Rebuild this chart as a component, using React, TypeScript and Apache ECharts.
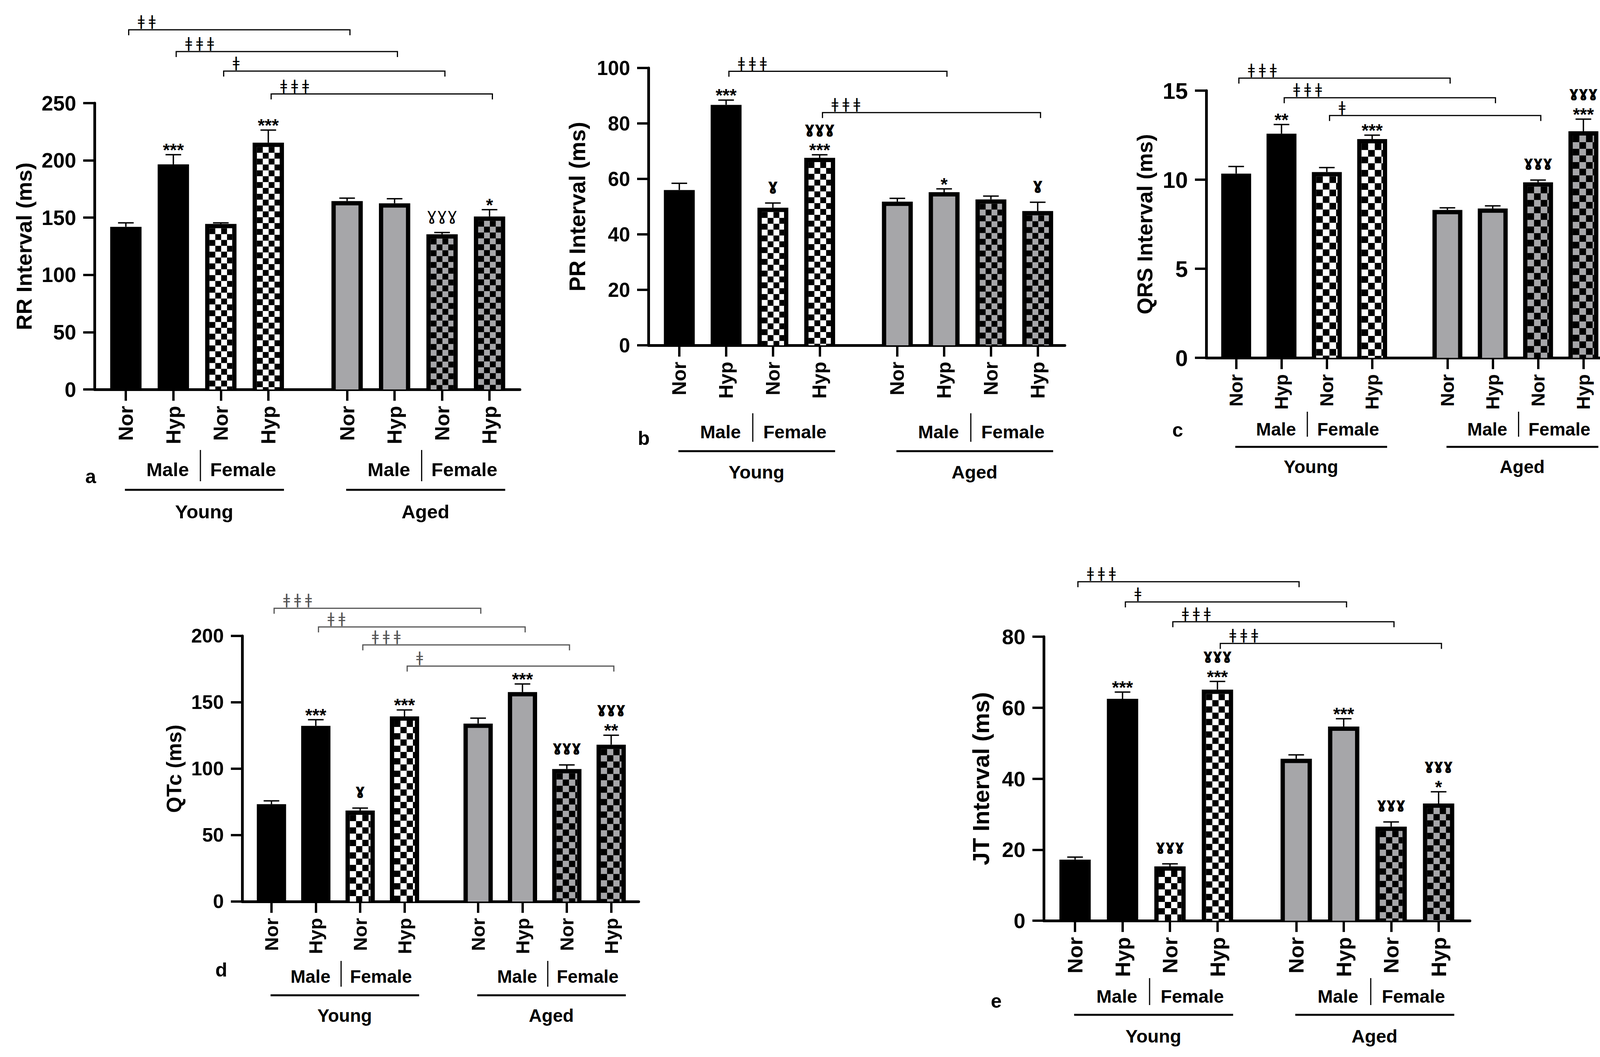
import React, { useEffect, useRef } from "react";
import * as echarts from "echarts";

// x tick labels and group labels
const barLabels = ["Nor", "Hyp", "Nor", "Hyp", "Nor", "Hyp", "Nor", "Hyp"];
const sexLabels = ["Male", "Female"];
const ageLabels = ["Young", "Aged"];

// a: RR interval (ms)
const rrMean = [142, 196.5, 144.5, 215.5, 164.5, 162.5, 135.5, 151];
const rrSem = [3.5, 8.5, 1, 11, 2.5, 4, 1.5, 6];
const rrStars = ["", "***", "", "***", "", "", "", "*"];
const rrGammas = ["", "", "", "", "", "", "ɣɣɣ", ""];
const rrBrackets: [number, number, number, string][] = [[0, 4, 314, "ǂǂ"], [1, 5, 295, "ǂǂǂ"], [2, 6, 278, "ǂ"], [3, 7, 258, "ǂǂǂ"]];

// b: PR interval (ms)
const prMean = [56, 86.7, 49.6, 67.6, 51.8, 55.2, 52.6, 48.4];
const prSem = [2.4, 1.7, 1.7, 1.1, 1.2, 1.2, 1.2, 3.2];
const prStars = ["", "***", "", "***", "", "*", "", ""];
const prGammas = ["", "", "ɣ", "ɣɣɣ", "", "", "", "ɣ"];
const prBrackets: [number, number, number, string][] = [[1, 5, 98.8, "ǂǂǂ"], [3, 7, 83.9, "ǂǂǂ"]];

// c: QRS interval (ms)
const qrsMean = [10.34, 12.58, 10.43, 12.28, 8.3, 8.38, 9.85, 12.72];
const qrsSem = [0.4, 0.52, 0.25, 0.22, 0.12, 0.15, 0.13, 0.68];
const qrsStars = ["", "**", "", "***", "", "", "", "***"];
const qrsGammas = ["", "", "", "", "", "", "ɣɣɣ", "ɣɣɣ"];
const qrsBrackets: [number, number, number, string][] = [[0, 4, 15.7, "ǂǂǂ"], [1, 5, 14.6, "ǂǂǂ"], [2, 6, 13.6, "ǂ"]];

// d: QTc (ms)
const qtcMean = [73.3, 132.3, 68.5, 139.4, 134, 157.7, 99.8, 118.1];
const qtcSem = [2.5, 4.6, 1.9, 4.9, 4.1, 6.1, 3.1, 7.1];
const qtcStars = ["", "***", "", "***", "", "***", "", "**"];
const qtcGammas = ["", "", "ɣ", "", "", "", "ɣɣɣ", "ɣɣɣ"];
const qtcBrackets: [number, number, number, string][] = [[0, 4, 220.8, "ǂǂǂ"], [1, 5, 206.8, "ǂǂ"], [2, 6, 193.2, "ǂǂǂ"], [3, 7, 177.3, "ǂ"]];

// e: JT interval (ms)
const jtMean = [17.2, 62.5, 15.3, 65.1, 45.6, 54.7, 26.5, 33];
const jtSem = [0.7, 1.9, 0.7, 2.3, 1.1, 2.2, 1.3, 3.3];
const jtStars = ["", "***", "", "***", "", "***", "", "*"];
const jtGammas = ["", "", "ɣɣɣ", "ɣɣɣ", "", "", "ɣɣɣ", "ɣɣɣ"];
const jtBrackets: [number, number, number, string][] = [[0, 4, 95.5, "ǂǂǂ"], [1, 5, 89.8, "ǂ"], [2, 6, 84.2, "ǂǂǂ"], [3, 7, 78.1, "ǂǂǂ"]];

const FONT = '"Liberation Sans", Arial, Helvetica, sans-serif';
const SYM_FONT = '"DejaVu Sans", sans-serif';
const GRAY = "#a6a6a9";
const KINDS = ["solid", "solid", "checkW", "checkW", "gray", "gray", "checkG", "checkG"];

// bar centres on the x value axis, in slot units, wider gap between Young and Aged
const barX = (i: number) => 0.66 + i + (i >= 4 ? 0.66 : 0);
const xs = barLabels.map((_, i) => barX(i));

interface Offsets { sex: number; divTop: number; divBot: number; line: number; age: number; letter: number; letterX: number }
interface Panel {
    letter: string; name: string;
    mean: number[]; sem: number[]; stars: string[]; gammas: string[]; brackets: [number, number, number, string][];
    left: number; top: number; width: number; height: number; xmax: number; ymax: number; step: number;
    tickSize: number; xLabSize: number; nameSize: number; nameGap: number; textSize: number;
    gammaSize: number; gammaWeight: string; square: number;
    off: Offsets; bracketColor: string;
}

const panels: Panel[] = [
    {
        letter: "a", name: "RR Interval (ms)", mean: rrMean, sem: rrSem, stars: rrStars, gammas: rrGammas, brackets: rrBrackets,
        left: 242, top: 264, width: 1089, height: 733, xmax: 8.96, ymax: 250, step: 50,
        tickSize: 53, xLabSize: 52, nameSize: 56, nameGap: 153, textSize: 49, gammaSize: 44, gammaWeight: "normal", square: 15,
        off: { sex: 205, divTop: 155, divBot: 235, line: 257, age: 313, letter: 223, letterX: -0.08 }, bracketColor: "#000"
    },
    {
        letter: "b", name: "PR Interval (ms)", mean: prMean, sem: prSem, stars: prStars, gammas: prGammas, brackets: prBrackets,
        left: 1660, top: 174, width: 1066, height: 710, xmax: 8.9, ymax: 100, step: 20,
        tickSize: 51, xLabSize: 50, nameSize: 57, nameGap: 154, textSize: 47, gammaSize: 40, gammaWeight: "bold", square: 15,
        off: { sex: 221, divTop: 174, divBot: 247, line: 271, age: 324, letter: 238, letterX: -0.1 }, bracketColor: "#000"
    },
    {
        letter: "c", name: "QRS Interval (ms)", mean: qrsMean, sem: qrsSem, stars: qrsStars, gammas: qrsGammas, brackets: qrsBrackets,
        left: 3088, top: 232, width: 1027, height: 684, xmax: 8.85, ymax: 15, step: 5,
        tickSize: 58, xLabSize: 48, nameSize: 55, nameGap: 130, textSize: 46, gammaSize: 38, gammaWeight: "bold", square: 17,
        off: { sex: 183, divTop: 138, divBot: 202, line: 228, age: 279, letter: 185, letterX: -0.63 }, bracketColor: "#000"
    },
    {
        letter: "d", name: "QTc (ms)", mean: qtcMean, sem: qtcSem, stars: qtcStars, gammas: qtcGammas, brackets: qtcBrackets,
        left: 620, top: 1628, width: 1015, height: 680, xmax: 8.94, ymax: 200, step: 50,
        tickSize: 50, xLabSize: 49, nameSize: 53, nameGap: 148, textSize: 46, gammaSize: 38, gammaWeight: "bold", square: 16,
        off: { sex: 192, divTop: 152, divBot: 218, line: 240, age: 292, letter: 175, letterX: -0.47 }, bracketColor: "#555"
    },
    {
        letter: "e", name: "JT Interval (ms)", mean: jtMean, sem: jtSem, stars: jtStars, gammas: jtGammas, brackets: jtBrackets,
        left: 2672, top: 1630, width: 1091, height: 727, xmax: 8.98, ymax: 80, step: 20,
        tickSize: 54, xLabSize: 54, nameSize: 60, nameGap: 131, textSize: 47, gammaSize: 38, gammaWeight: "bold", square: 16,
        off: { sex: 193, divTop: 147, divBot: 216, line: 241, age: 295, letter: 206, letterX: -1.0 }, bracketColor: "#000"
    }
];

const txt = (text: string, x: number, y: number, size: number, weight = "bold", family = FONT, fill = "#000") => ({
    type: "text",
    style: { text, x, y, fill, fontSize: size, fontWeight: weight, fontFamily: family, align: "center", verticalAlign: "middle" }
});

const renderBar = (p: Panel) => (params: any, api: any) => {
    const x = api.value(0);
    const top = api.coord([x, api.value(1)]);
    const base = api.coord([x, 0]);
    const w = api.size([1, 0])[0] * 0.66;
    const x0 = top[0] - w / 2;
    const children: any[] = [
        { type: "rect", shape: { x: x0, y: top[1], width: w, height: base[1] - top[1] }, style: { fill: "#000" } }
    ];
    const kind = KINDS[params.dataIndex];
    if (kind !== "solid") {
        const b = 11;
        const ix = x0 + b, iy = top[1] + b, iw = w - 2 * b, ih = base[1] - iy;
        if (ih > 0) {
            children.push({ type: "rect", shape: { x: ix, y: iy, width: iw, height: ih }, style: { fill: kind === "checkW" ? "#fff" : GRAY } });
            if (kind !== "gray") {
                const q = p.square;
                for (let r = 0; r * q < ih; r++) {
                    for (let c = 0; c * q < iw; c++) {
                        if ((r + c) % 2) continue;
                        children.push({
                            type: "rect",
                            shape: { x: ix + c * q, y: iy + r * q, width: Math.min(q, iw - c * q), height: Math.min(q, ih - r * q) },
                            style: { fill: "#000" }
                        });
                    }
                }
            }
        }
    }
    return { type: "group", children };
};

const renderErr = (p: Panel) => (params: any, api: any) => {
    const i = params.dataIndex;
    const x = api.value(0), v = api.value(1), e = api.value(2);
    const a = api.coord([x, v]);
    const b = api.coord([x, v + e]);
    const st = { stroke: "#000", lineWidth: 3.5 };
    const children: any[] = [
        { type: "line", shape: { x1: a[0], y1: a[1], x2: b[0], y2: b[1] }, style: st },
        { type: "line", shape: { x1: b[0] - 20, y1: b[1], x2: b[0] + 20, y2: b[1] }, style: st }
    ];
    const stars = p.stars[i], gam = p.gammas[i];
    if (stars) children.push(txt(stars, b[0], b[1] - 12, 46));
    if (gam) children.push(txt(gam, b[0], b[1] - (stars ? 62 : 40) - 7, p.gammaSize, p.gammaWeight, SYM_FONT));
    return { type: "group", children };
};

const renderBracket = (p: Panel) => (params: any, api: any) => {
    const label = p.brackets[params.dataIndex][3];
    const a = api.coord([api.value(0) + 0.06, api.value(2)]);
    const b = api.coord([api.value(1) + 0.06, api.value(2)]);
    const children: any[] = [{
        type: "polyline",
        shape: { points: [[a[0], a[1] + 14], [a[0], a[1]], [b[0], b[1]], [b[0], b[1] + 14]] },
        style: { stroke: p.bracketColor, lineWidth: 3, fill: null }
    }];
    for (let k = 0; k < label.length; k++) {
        children.push({
            type: "text",
            style: {
                text: label[k], x: a[0] + 32 + k * 28, y: a[1] - 4, fill: p.bracketColor,
                fontSize: 38, fontFamily: SYM_FONT, align: "center", verticalAlign: "bottom"
            }
        });
    }
    return { type: "group", children };
};

const renderGroup = (p: Panel) => (params: any, api: any) => {
    const g = params.dataIndex;
    const x0 = api.value(0), x3 = api.value(1);
    const ay = api.coord([x0, 0])[1];
    const px = (u: number) => api.coord([x0 + u, 0])[0];
    const o = p.off;
    const children: any[] = [
        txt(sexLabels[0], px(0.88), ay + o.sex, p.textSize),
        { type: "line", shape: { x1: px(1.57), y1: ay + o.divTop, x2: px(1.57), y2: ay + o.divBot }, style: { stroke: "#000", lineWidth: 3 } },
        txt(sexLabels[1], px(2.47), ay + o.sex, p.textSize),
        { type: "line", shape: { x1: px(-0.02), y1: ay + o.line, x2: api.coord([x3 + 0.33, 0])[0], y2: ay + o.line }, style: { stroke: "#000", lineWidth: 5 } },
        txt(ageLabels[g], px(1.65), ay + o.age, p.textSize)
    ];
    if (g === 0) children.push(txt(p.letter, api.coord([o.letterX, 0])[0], ay + o.letter, 50));
    return { type: "group", children };
};

const App: React.FC = () => {
    const chartRef = useRef<HTMLDivElement>(null);

    useEffect(() => {
        if (!chartRef.current) return;
        document.body.style.margin = "0";
        const chart = echarts.init(chartRef.current, undefined, { renderer: "svg" });

        const axisLine = { show: true, onZero: false, lineStyle: { color: "#000", width: 7 } };
        const axisTick = { show: true, length: 29, lineStyle: { color: "#000", width: 6 } };

        const option: any = {
            animation: false,
            backgroundColor: "#fff",
            grid: panels.map(p => ({ left: p.left, top: p.top, width: p.width, height: p.height })),
            xAxis: panels.map((p, k) => ({
                gridIndex: k, type: "value", min: 0, max: p.xmax,
                axisLine, splitLine: { show: false },
                axisTick: { ...axisTick, customValues: xs },
                axisLabel: {
                    customValues: xs, rotate: 90, margin: 42,
                    formatter: (v: number) => barLabels[xs.findIndex(x => Math.abs(x - v) < 1e-6)] ?? "",
                    fontSize: p.xLabSize, fontWeight: "bold", color: "#000", fontFamily: FONT
                }
            })),
            yAxis: panels.map((p, k) => ({
                gridIndex: k, type: "value", min: 0, max: p.ymax, interval: p.step,
                axisLine: { ...axisLine }, axisTick, splitLine: { show: false },
                axisLabel: { margin: 47, fontSize: p.tickSize, fontWeight: "bold", color: "#000", fontFamily: FONT },
                name: p.name, nameLocation: "middle", nameGap: p.nameGap,
                nameTextStyle: { fontSize: p.nameSize, fontWeight: "bold", color: "#000", fontFamily: FONT }
            })),
            series: panels.flatMap((p, k) => [
                {
                    type: "custom", xAxisIndex: k, yAxisIndex: k, clip: false, z: 2,
                    renderItem: renderBar(p), data: xs.map((x, i) => [x, p.mean[i]])
                },
                {
                    type: "custom", xAxisIndex: k, yAxisIndex: k, clip: false, z: 3,
                    renderItem: renderErr(p), data: xs.map((x, i) => [x, p.mean[i], p.sem[i]])
                },
                {
                    type: "custom", xAxisIndex: k, yAxisIndex: k, clip: false, z: 3,
                    renderItem: renderBracket(p), data: p.brackets.map(b => [barX(b[0]), barX(b[1]), b[2]])
                },
                {
                    type: "custom", xAxisIndex: k, yAxisIndex: k, clip: false, z: 3,
                    renderItem: renderGroup(p), data: [[xs[0], xs[3]], [xs[4], xs[7]]]
                }
            ])
        };

        chart.setOption(option);
        return () => chart.dispose();
    }, []);

    return <div ref={chartRef} style={{ width: 4132, height: 2706 }} />;
};

export default App;
